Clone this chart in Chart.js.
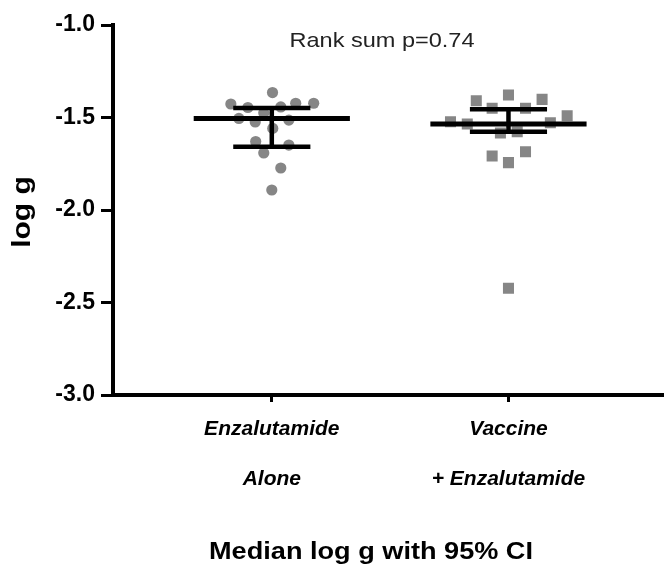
<!DOCTYPE html>
<html>
<head>
<meta charset="utf-8">
<script src="https://cdn.jsdelivr.net/npm/chart.js@4"></script>
<style>
  html, body { margin: 0; background: #fff; overflow: hidden; }
  #wrap { width: 672px; height: 569px; }
</style>
</head>
<body>
<div id="wrap"><canvas id="dotChart"></canvas></div>
<script>
// groups on the x axis (1 and 2)
var groupNames = [['Enzalutamide', 'Alone'], ['Vaccine', '+ Enzalutamide']];
var yTicks = [-1.0, -1.5, -2.0, -2.5, -3.0];

// individual values (x = group position with jitter, y = log g)
var aloneX = [1.003, 0.827, 0.899, 1.038, 1.101, 1.177, 0.966, 0.861, 0.930, 1.072, 1.004, 0.932, 1.072, 0.966, 1.038, 1.0];
var aloneY = [-1.365, -1.427, -1.446, -1.443, -1.423, -1.423, -1.476, -1.505, -1.524, -1.514, -1.559, -1.630, -1.649, -1.692, -1.773, -1.892];
var vaccX = [1.864, 2.0, 2.142, 1.931, 2.072, 1.755, 1.826, 2.177, 2.248, 1.966, 2.037, 1.931, 2.0, 2.072, 2.0];
var vaccY = [-1.409, -1.378, -1.402, -1.450, -1.450, -1.523, -1.535, -1.528, -1.490, -1.584, -1.577, -1.708, -1.744, -1.685, -2.423];

// median and 95% CI per group
var medians = [-1.505, -1.535];
var ciLow = [-1.658, -1.577];
var ciHigh = [-1.449, -1.456];

var medHalf = 0.33, ciHalf = 0.163;

function toPts(xs, ys) {
  return xs.map(function (x, i) { return { x: x, y: ys[i] }; });
}

var barSets = [];
medians.forEach(function (m, i) {
  var gx = i + 1;
  barSets.push({ data: [{ x: gx - medHalf, y: m }, { x: gx + medHalf, y: m }], borderWidth: 5 });
  barSets.push({ data: [{ x: gx - ciHalf, y: ciHigh[i] }, { x: gx + ciHalf, y: ciHigh[i] }], borderWidth: 4.5 });
  barSets.push({ data: [{ x: gx - ciHalf, y: ciLow[i] }, { x: gx + ciHalf, y: ciLow[i] }], borderWidth: 4.5 });
  barSets.push({ data: [{ x: gx, y: ciLow[i] }, { x: gx, y: ciHigh[i] }], borderWidth: 4.5 });
});
barSets = barSets.map(function (d) {
  d.type = 'scatter';
  d.showLine = true;
  d.borderColor = '#000';
  d.pointRadius = 0;
  d.borderCapStyle = 'butt';
  d.order = 0;
  return d;
});

var datasets = [
  { data: toPts(aloneX, aloneY), pointStyle: 'circle', pointRadius: 5.6,
    backgroundColor: '#868686', borderWidth: 0, order: 1 },
  { data: toPts(vaccX, vaccY), pointStyle: 'rect', pointRadius: 7.8,
    backgroundColor: '#868686', borderWidth: 0, order: 1 }
].concat(barSets);

// text drawn a little wider than the font, like the original figure
function wideText(ctx, txt, x, y, sx) {
  ctx.save();
  ctx.translate(x, y);
  ctx.scale(sx, 1);
  ctx.fillText(txt, 0, 0);
  ctx.restore();
}

const textPlugin = {
  id: 'textPlugin',
  afterDraw(chart) {
    const { ctx } = chart;
    ctx.save();
    ctx.textAlign = 'center';
    ctx.textBaseline = 'alphabetic';
    ctx.font = '21px "Liberation Sans", Arial, sans-serif';
    ctx.fillStyle = '#222';
    wideText(ctx, 'Rank sum p=0.74', 382, 47, 1.12);
    ctx.fillStyle = '#000';
    ctx.font = 'bold 24px "Liberation Sans", Arial, sans-serif';
    wideText(ctx, 'Median log g with 95% CI', 371, 559, 1.13);
    ctx.translate(30, 212);
    ctx.rotate(-Math.PI / 2);
    ctx.font = 'bold 25px "Liberation Sans", Arial, sans-serif';
    wideText(ctx, 'log g', 0, 0, 1.2);
    ctx.restore();
  }
};

new Chart(document.getElementById('dotChart').getContext('2d'), {
  type: 'scatter',
  data: { datasets: datasets },
  options: {
    responsive: true,
    maintainAspectRatio: false,
    animation: false,
    layout: { padding: { top: 25, right: 0, left: 0, bottom: 0 } },
    plugins: { legend: { display: false }, tooltip: { enabled: false } },
    scales: {
      x: {
        type: 'linear',
        min: 0.329,
        max: 2.658,
        afterFit(scale) { scale.height = 174; },
        afterBuildTicks(scale) { scale.ticks = [{ value: 1 }, { value: 2 }]; },
        border: { display: true, color: '#000', width: 4 },
        grid: { display: true, drawOnChartArea: false, drawTicks: true, tickLength: 7, tickWidth: 3, tickColor: '#000' },
        ticks: {
          padding: 2,
          color: '#000',
          maxRotation: 0,
          font: { family: '"Liberation Sans", Arial, sans-serif', size: 21, weight: 'bold', style: 'italic', lineHeight: '50px' },
          callback: function (v) { return groupNames[Math.round(v) - 1] || ''; }
        }
      },
      y: {
        min: -3.0,
        max: -1.0,
        afterFit(scale) { scale.width = 113; },
        afterBuildTicks(scale) { scale.ticks = yTicks.map(function (v) { return { value: v }; }); },
        border: { display: true, color: '#000', width: 4 },
        grid: { display: true, drawOnChartArea: false, drawTicks: true, tickLength: 12, tickWidth: 3, tickColor: '#000' },
        ticks: {
          padding: 6,
          color: '#000',
          font: { family: '"Liberation Sans", Arial, sans-serif', size: 23, weight: 'bold' },
          callback: function (v) { return v.toFixed(1); }
        }
      }
    }
  },
  plugins: [textPlugin]
});
</script>
</body>
</html>
